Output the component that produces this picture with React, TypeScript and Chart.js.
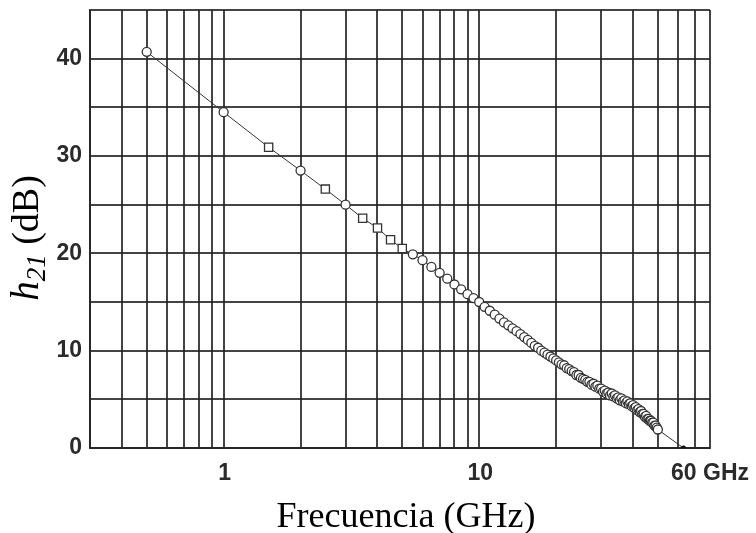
import React, { useEffect, useRef } from "react";
import { Chart, registerables } from "chart.js";

Chart.register(...registerables);

// Measured points: frequency (GHz) and h21 (dB)
const freqGHz = [
  0.5, 1, 1.5, 2, 2.5, 3, 3.5, 4, 4.5, 5,
  5.5, 6, 6.5, 7, 7.5, 8, 8.5, 9, 9.5, 10,
  10.5, 11, 11.5, 12, 12.5, 13, 13.5, 14, 14.5, 15,
  15.5, 16, 16.5, 17, 17.5, 18, 18.5, 19, 19.5, 20,
  20.5, 21, 21.5, 22, 22.5, 23, 23.5, 24, 24.5, 25,
  25.5, 26, 26.5, 27, 27.5, 28, 28.5, 29, 29.5, 30,
  30.5, 31, 31.5, 32, 32.5, 33, 33.5, 34, 34.5, 35,
  35.5, 36, 36.5, 37, 37.5, 38, 38.5, 39, 39.5, 40,
  40.5, 41, 41.5, 42, 42.5, 43, 43.5, 44, 44.5, 45,
  45.5, 46, 46.5, 47, 47.5, 48, 48.5, 49, 49.5, 50,
];
const h21dB = [
  40.7, 34.5, 30.9, 28.5, 26.6, 25.0, 23.6, 22.6, 21.4, 20.5,
  19.9, 19.3, 18.6, 18.0, 17.4, 16.8, 16.3, 15.8, 15.4, 15.0,
  14.5, 14.1, 13.7, 13.3, 12.9, 12.6, 12.3, 12.0, 11.7, 11.4,
  11.1, 10.8, 10.5, 10.3, 10.0, 9.8, 9.6, 9.4, 9.2, 9.0,
  8.8, 8.6, 8.5, 8.2, 8.1, 7.9, 7.8, 7.5, 7.5, 7.2,
  7.1, 7.0, 6.8, 6.8, 6.5, 6.6, 6.3, 6.4, 6.1, 6.1,
  5.8, 5.9, 5.6, 5.7, 5.4, 5.6, 5.3, 5.4, 5.1, 5.2,
  4.9, 5.1, 4.8, 4.9, 4.6, 4.8, 4.5, 4.6, 4.3, 4.4,
  4.1, 4.2, 3.9, 4.0, 3.7, 3.8, 3.5, 3.5, 3.2, 3.3,
  3.0, 3.0, 2.8, 2.8, 2.6, 2.6, 2.3, 2.3, 2.1, 1.9,
];

// Extrapolated end of the trend line, reaching 0 dB
const extFreq = [63];
const extDb = [0];

// Axis ranges, grid and labels
const xMin = 0.3;
const xMax = 80;
const xGridValues = [
  0.3, 0.4, 0.5, 0.6, 0.7, 0.8, 0.9,
  1, 2, 3, 4, 5, 6, 7, 8, 9,
  10, 20, 30, 40, 50, 60, 70, 80,
];
const xLabelValues = [1, 10, 60];
const xLabelTexts = ["1", "10", "60 GHz"];
const yMin = 0;
const yMax = 45;
const yStep = 5;
const yLabelValues = [0, 10, 20, 30, 40];
const xTitle = "Frecuencia (GHz)";
const yTitleMain = "h";
const yTitleSub = "21";
const yTitleRest = " (dB)";

const tickFont = '"Liberation Sans", Arial, sans-serif';
const serifFont = '"Liberation Serif", "Times New Roman", serif';
const ink = "#2b2b2b";
const gridColor = "rgba(35,35,35,0.85)";

const textPlugin = {
  id: "customText",
  afterDraw(chart: any) {
    const ctx = chart.ctx;
    const xs = chart.scales.x;
    ctx.save();
    ctx.fillStyle = ink;
    // x tick labels
    ctx.font = `bold 23px ${tickFont}`;
    ctx.textBaseline = "alphabetic";
    xLabelValues.forEach((v, i) => {
      const px = xs.getPixelForValue(v);
      const t = xLabelTexts[i];
      if (t.length > 2) {
        ctx.textAlign = "left";
        ctx.fillText(t, px - 7, 480);
      } else {
        ctx.textAlign = "center";
        ctx.fillText(t, px + 1, 480);
      }
    });
    // x title
    ctx.fillStyle = "#000";
    ctx.font = `36px ${serifFont}`;
    ctx.textAlign = "center";
    ctx.fillText(xTitle, 406, 527);
    // y title (rotated, italic h with italic subscript)
    ctx.translate(38, 238);
    ctx.rotate(-Math.PI / 2);
    const mainFont = `italic 39px ${serifFont}`;
    const subFont = `italic 27px ${serifFont}`;
    const restFont = `38px ${serifFont}`;
    ctx.font = mainFont;
    const w1 = ctx.measureText(yTitleMain).width;
    ctx.font = subFont;
    const w2 = ctx.measureText(yTitleSub).width;
    ctx.font = restFont;
    const w3 = ctx.measureText(yTitleRest).width;
    let x0 = -(w1 + w2 + w3) / 2;
    ctx.textAlign = "left";
    ctx.font = mainFont;
    ctx.fillText(yTitleMain, x0, 0);
    x0 += w1;
    ctx.font = subFont;
    ctx.fillText(yTitleSub, x0, 7);
    x0 += w2;
    ctx.font = restFont;
    ctx.fillText(yTitleRest, x0, 0);
    ctx.restore();
  },
};

export default function App() {
  const canvasRef = useRef<HTMLCanvasElement | null>(null);

  useEffect(() => {
    const canvas = canvasRef.current;
    if (!canvas) return;
    const pts = freqGHz.map((f, i) => ({ x: f, y: h21dB[i] }));
    const trend = pts.concat(extFreq.map((f, i) => ({ x: f, y: extDb[i] })));
    const isSquare = (f: number) => f > 1 && f <= 5 && f !== 2 && f !== 3;
    const chart = new Chart(canvas, {
      type: "scatter",
      data: {
        datasets: [
          {
            type: "line",
            data: trend,
            borderColor: "#333",
            borderWidth: 1,
            pointRadius: (c: any) => (c.dataIndex === trend.length - 1 ? 2.5 : 0),
            pointBackgroundColor: "#111",
            pointBorderWidth: 0,
            fill: false,
            order: 2,
          } as any,
          {
            data: pts,
            showLine: false,
            pointStyle: (c: any) => (isSquare(freqGHz[c.dataIndex]) ? "rect" : "circle"),
            pointRadius: (c: any) => (isSquare(freqGHz[c.dataIndex]) ? 5.8 : 4.5),
            pointBackgroundColor: "#fff",
            pointBorderColor: "#333",
            pointBorderWidth: 1.3,
            order: 1,
          } as any,
        ],
      },
      options: {
        animation: false,
        responsive: false,
        maintainAspectRatio: false,
        layout: { padding: { left: 0, right: 46, top: 10, bottom: 0 } },
        plugins: {
          legend: { display: false },
          tooltip: { enabled: false },
        },
        scales: {
          x: {
            type: "logarithmic",
            min: xMin,
            max: xMax,
            afterBuildTicks: (s: any) => {
              s.ticks = xGridValues.map((v) => ({ value: v }));
            },
            afterFit: (s: any) => {
              s.height = 85;
              s.paddingLeft = 0;
              s.paddingRight = 0;
            },
            ticks: { display: false },
            grid: { color: gridColor, lineWidth: 2, drawTicks: false },
            border: { display: true, color: gridColor, width: 2 },
          },
          y: {
            type: "linear",
            min: yMin,
            max: yMax,
            afterFit: (s: any) => {
              s.width = 90;
              s.paddingTop = 0;
              s.paddingBottom = 0;
            },
            ticks: {
              stepSize: yStep,
              padding: 8,
              color: ink,
              font: { family: tickFont, size: 23, weight: "bold" },
              callback: (v: any) => (yLabelValues.includes(Number(v)) ? String(v) : ""),
            },
            grid: { color: gridColor, lineWidth: 2, drawTicks: false },
            border: { display: true, color: gridColor, width: 2 },
          },
        },
      } as any,
      plugins: [textPlugin],
    });
    return () => chart.destroy();
  }, []);

  return (
    <div style={{ position: "fixed", left: 0, top: 0, width: 756, height: 533, background: "#fff" }}>
      <canvas ref={canvasRef} width={756} height={533} style={{ width: 756, height: 533 }} />
    </div>
  );
}
